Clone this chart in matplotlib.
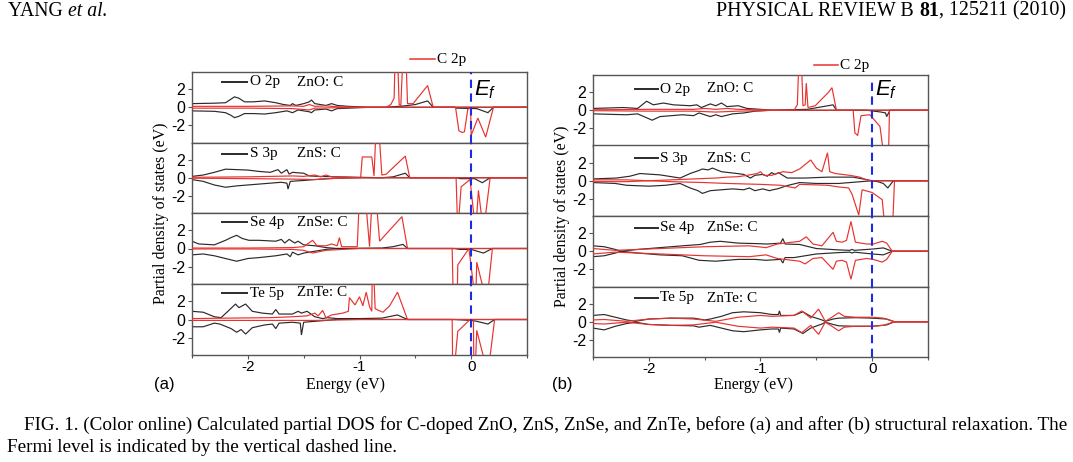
import numpy as np
import matplotlib
matplotlib.use('Agg')
import matplotlib.pyplot as plt
from matplotlib.lines import Line2D
from matplotlib.ticker import MultipleLocator

plt.rcParams['axes.unicode_minus'] = False
plt.rcParams['mathtext.fontset'] = 'custom'
plt.rcParams['mathtext.it'] = 'Liberation Sans:italic'
plt.rcParams['mathtext.rm'] = 'Liberation Sans'

W, H = 1073, 462
SERIF = 'Liberation Serif'
SANS = 'Liberation Sans'
BLACK = '#2a2a2a'
RED = '#e8322f'
BLUE = '#1f2be0'

# ---------------- data (energy eV, PDOS) ----------------
MATERIALS = ['ZnO: C', 'ZnS: C', 'ZnSe: C', 'ZnTe: C']
ANION_LABELS = ['O 2p', 'S 3p', 'Se 4p', 'Te 5p']
CARBON_LABEL = 'C 2p'
XTICKS = [-2, -1, 0]
YTICKS = [-2, 0, 2]
XLIM = (-2.5, 0.5)
YLIM = (-3.9, 3.9)
FERMI = 0.0

# ----- panel (a): before relaxation -----
A_ZNO_BLACK_UP = [(-2.5,0.4),(-2.3,0.45),(-2.2,0.5),(-2.15,0.9),(-2.12,1.15),(-2.08,1.0),(-2.03,0.6),(-1.95,0.6),(-1.85,0.7),(-1.75,0.5),(-1.68,0.3),(-1.62,0.2),(-1.6,0.4),(-1.57,0.2),(-1.5,0.4),(-1.45,0.6),(-1.43,0.8),(-1.4,0.4),(-1.35,0.3),(-1.3,0.2),(-1.25,0.4),(-1.2,0.2),(-1.1,0.1),(-1.0,0.05),(-0.9,0.0),(-0.75,0.0),(-0.65,0.1),(-0.6,0.15),(-0.5,0.3),(-0.39,0.7),(-0.34,0.0),(0.5,0.0)]
A_ZNO_BLACK_DN = [(-2.5,-0.4),(-2.3,-0.45),(-2.2,-0.6),(-2.15,-0.9),(-2.12,-1.15),(-2.08,-1.0),(-2.03,-0.7),(-1.95,-0.7),(-1.85,-0.75),(-1.75,-0.6),(-1.65,-0.4),(-1.6,-0.6),(-1.55,-0.3),(-1.45,-0.5),(-1.43,-0.6),(-1.4,-0.3),(-1.3,-0.2),(-1.25,-0.4),(-1.2,-0.15),(-1.1,-0.1),(-0.9,0.0),(-0.15,0.0),(-0.13,-0.1),(0.05,-0.15),(0.15,-0.6),(0.2,0.0),(0.5,0.0)]
A_ZNO_RED_UP = [(-2.5,0.1),(-2.0,0.1),(-1.6,0.15),(-1.5,0.1),(-1.45,0.3),(-1.4,0.1),(-1.3,0.15),(-1.2,0.05),(-1.0,0.0),(-0.76,0.0),(-0.72,0.3),(-0.69,1.0),(-0.68,6),(-0.66,6),(-0.645,0.3),(-0.63,0.2),(-0.61,6),(-0.585,6),(-0.57,0.4),(-0.52,0.4),(-0.39,2.4),(-0.34,0.0),(0.5,0.0)]
A_ZNO_RED_DN = [(-2.5,-0.1),(-2.0,-0.1),(-1.6,-0.15),(-1.45,-0.3),(-1.4,-0.1),(-1.2,-0.05),(-1.0,0.0),(-0.14,0.0),(-0.11,-2.6),(-0.08,-2.8),(-0.06,-2.7),(-0.03,-0.2),(-0.005,-0.1),(0.0,-3.1),(0.06,-1.2),(0.13,-3.3),(0.2,0.0),(0.5,0.0)]

A_ZNS_BLACK_UP = [(-2.5,0.15),(-2.4,0.3),(-2.3,0.6),(-2.2,0.95),(-2.1,0.9),(-2.0,0.85),(-1.9,0.7),(-1.8,0.6),(-1.73,0.9),(-1.7,0.5),(-1.65,0.9),(-1.63,0.4),(-1.6,0.6),(-1.5,0.5),(-1.45,0.2),(-1.36,0.15),(-1.2,0.1),(-1.0,0.05),(-0.8,0.0),(-0.7,0.1),(-0.59,0.5),(-0.55,0.0),(0.5,0.0)]
A_ZNS_BLACK_DN = [(-2.5,-0.2),(-2.4,-0.4),(-2.3,-0.8),(-2.2,-1.05),(-2.1,-0.9),(-2.0,-0.8),(-1.9,-0.7),(-1.8,-0.6),(-1.7,-0.5),(-1.65,-0.6),(-1.64,-1.25),(-1.62,-0.4),(-1.5,-0.3),(-1.4,-0.2),(-1.2,-0.05),(-1.0,0.0),(-0.12,0.0),(-0.1,-0.1),(0.03,-0.1),(0.1,-0.55),(0.17,0.0),(0.5,0.0)]
A_ZNS_RED_UP = [(-2.5,0.05),(-2.0,0.1),(-1.8,0.15),(-1.6,0.2),(-1.5,0.15),(-1.4,0.3),(-1.35,0.1),(-1.3,0.3),(-1.25,0.1),(-1.1,0.05),(-0.99,0.0),(-0.975,2.3),(-0.89,2.3),(-0.87,0.2),(-0.85,6),(-0.83,6),(-0.8,0.3),(-0.76,0.4),(-0.59,2.4),(-0.55,0.0),(0.5,0.0)]
A_ZNS_RED_DN = [(-2.5,-0.05),(-2.0,-0.1),(-1.6,-0.15),(-1.4,-0.2),(-1.3,-0.1),(-1.0,0.0),(-0.135,0.0),(-0.12,-6),(-0.09,-1.0),(-0.01,-0.2),(0.04,-6),(0.065,-1.4),(0.11,-6),(0.17,0.0),(0.5,0.0)]

A_ZNSE_BLACK_UP = [(-2.5,0.8),(-2.44,0.5),(-2.3,0.4),(-2.2,0.9),(-2.15,1.2),(-2.1,1.45),(-2.05,1.1),(-1.99,0.9),(-1.9,0.9),(-1.75,0.8),(-1.7,1.0),(-1.67,0.6),(-1.63,1.0),(-1.58,0.6),(-1.55,0.8),(-1.5,0.4),(-1.4,0.3),(-1.3,0.1),(-1.2,0.0),(-0.8,0.05),(-0.7,0.2),(-0.61,0.45),(-0.57,0.0),(0.5,0.0)]
A_ZNSE_BLACK_DN = [(-2.5,-0.7),(-2.4,-0.6),(-2.3,-0.8),(-2.2,-1.1),(-2.1,-1.4),(-2.0,-1.1),(-1.9,-1.0),(-1.75,-0.8),(-1.65,-0.6),(-1.62,-0.9),(-1.6,-0.4),(-1.55,-0.7),(-1.5,-0.5),(-1.4,-0.3),(-1.3,-0.1),(-1.2,0.0),(-0.15,0.0),(-0.1,-0.1),(0.0,-0.1),(0.11,-0.5),(0.19,0.0),(0.5,0.0)]
A_ZNSE_RED_UP = [(-2.5,0.05),(-2.0,0.05),(-1.6,0.1),(-1.5,0.2),(-1.42,0.9),(-1.38,0.3),(-1.3,0.3),(-1.25,0.5),(-1.2,0.3),(-1.18,1.2),(-1.16,0.2),(-1.02,0.2),(-1.0,6),(-0.95,6),(-0.91,0.2),(-0.885,6),(-0.855,6),(-0.82,0.8),(-0.62,3.5),(-0.57,0.0),(0.5,0.0)]
A_ZNSE_RED_DN = [(-2.5,-0.05),(-2.0,-0.05),(-1.6,-0.1),(-1.5,-0.2),(-1.42,-0.5),(-1.3,-0.2),(-1.0,0.0),(-0.17,0.0),(-0.16,-6),(-0.125,-6),(-0.12,-1.8),(-0.02,0.0),(0.04,-6),(0.05,-1.5),(0.14,-6),(0.19,0.0),(0.5,0.0)]

A_ZNTE_BLACK_UP = [(-2.5,0.9),(-2.4,0.8),(-2.3,0.3),(-2.24,0.2),(-2.17,1.0),(-2.11,1.7),(-2.08,1.3),(-2.02,1.7),(-1.96,0.9),(-1.87,0.7),(-1.78,0.6),(-1.75,1.1),(-1.72,0.6),(-1.6,0.6),(-1.55,0.9),(-1.52,0.7),(-1.47,0.9),(-1.4,0.3),(-1.33,0.1),(-1.29,0.2),(-1.2,0.1),(-1.0,0.1),(-0.8,0.15),(-0.66,0.5),(-0.57,0.0),(0.5,0.0)]
A_ZNTE_BLACK_DN = [(-2.5,-0.8),(-2.4,-0.8),(-2.3,-0.4),(-2.25,-0.5),(-2.15,-1.0),(-2.1,-1.4),(-2.06,-1.1),(-2.02,-1.6),(-1.96,-0.9),(-1.85,-0.6),(-1.78,-0.5),(-1.75,-1.0),(-1.72,-0.4),(-1.6,-0.3),(-1.53,-0.4),(-1.52,-1.7),(-1.5,-0.3),(-1.4,-0.2),(-1.3,-0.1),(-1.2,0.0),(-0.15,0.0),(0.0,-0.1),(0.05,-0.2),(0.15,-0.5),(0.21,0.0),(0.5,0.0)]
A_ZNTE_RED_UP = [(-2.5,0.1),(-2.2,0.15),(-1.8,0.2),(-1.6,0.3),(-1.47,0.4),(-1.4,0.7),(-1.37,0.4),(-1.33,1.0),(-1.3,0.2),(-1.25,0.5),(-1.15,0.7),(-1.1,0.9),(-1.09,2.4),(-1.04,1.6),(-1.0,2.5),(-0.97,1.5),(-0.94,3.0),(-0.91,1.4),(-0.89,0.9),(-0.885,6),(-0.875,6),(-0.86,1.2),(-0.83,1.0),(-0.79,0.8),(-0.73,1.5),(-0.66,3.0),(-0.57,0.0),(0.5,0.0)]
A_ZNTE_RED_DN = [(-2.5,-0.1),(-2.0,-0.1),(-1.6,-0.1),(-1.4,-0.1),(-1.2,-0.05),(-1.0,0.0),(-0.17,0.0),(-0.165,-6),(-0.155,-6),(-0.12,-1.3),(-0.01,0.0),(0.02,0.0),(0.025,-6),(0.035,-6),(0.05,-1.2),(0.15,-6),(0.21,0.0),(0.5,0.0)]

# ----- panel (b): after relaxation -----
B_ZNO_BLACK_UP = [(-2.5,0.2),(-2.23,0.3),(-2.1,0.2),(-2.05,0.7),(-2.02,1.0),(-1.96,0.6),(-1.87,0.8),(-1.78,0.6),(-1.63,0.5),(-1.57,0.6),(-1.53,0.3),(-1.45,0.7),(-1.4,0.5),(-1.35,0.8),(-1.3,0.4),(-1.2,0.5),(-1.12,0.2),(-1.0,0.1),(-0.89,0.0),(-0.58,0.1),(-0.35,0.6),(-0.32,0.0),(0.5,0.0)]
B_ZNO_BLACK_DN = [(-2.5,-0.4),(-2.2,-0.5),(-2.1,-0.4),(-1.97,-1.1),(-1.9,-0.7),(-1.8,-0.6),(-1.7,-0.5),(-1.6,-0.6),(-1.55,-0.3),(-1.45,-0.7),(-1.4,-0.5),(-1.35,-0.7),(-1.25,-0.4),(-1.15,-0.3),(-1.05,-0.1),(-0.9,0.0),(-0.05,0.0),(0.08,-0.2),(0.12,-0.3),(0.13,-0.7),(0.16,0.0),(0.5,0.0)]
B_ZNO_RED_UP = [(-2.5,0.05),(-2.0,0.1),(-1.6,0.1),(-1.5,0.2),(-1.4,0.1),(-1.3,0.2),(-1.2,0.1),(-1.0,0.05),(-0.9,0.0),(-0.7,0.0),(-0.67,0.6),(-0.655,6),(-0.635,6),(-0.62,0.5),(-0.6,0.6),(-0.59,3.0),(-0.575,0.3),(-0.51,0.5),(-0.39,2.0),(-0.36,2.5),(-0.32,0.0),(0.5,0.0)]
B_ZNO_RED_DN = [(-2.5,-0.05),(-2.0,-0.1),(-1.6,-0.1),(-1.4,-0.2),(-1.2,-0.1),(-1.0,-0.05),(-0.9,0.0),(-0.17,0.0),(-0.155,-2.5),(-0.13,-2.8),(-0.1,-0.6),(-0.02,-0.5),(0.07,-1.8),(0.115,-6),(0.145,-6),(0.155,0.0),(0.5,0.0)]

B_ZNS_BLACK_UP = [(-2.5,0.2),(-2.29,0.3),(-2.17,0.5),(-2.08,0.8),(-1.9,0.65),(-1.72,0.3),(-1.63,0.8),(-1.56,1.1),(-1.52,1.3),(-1.47,1.2),(-1.43,1.4),(-1.35,1.0),(-1.21,0.8),(-1.15,0.7),(-1.09,0.3),(-1.05,0.6),(-0.98,0.7),(-0.94,0.5),(-0.9,0.9),(-0.87,0.7),(-0.84,0.9),(-0.76,0.3),(-0.6,0.3),(-0.4,0.4),(-0.17,0.4),(-0.02,0.05),(0.0,0.0),(0.5,0.0)]
B_ZNS_BLACK_DN = [(-2.5,-0.2),(-2.3,-0.3),(-2.2,-0.5),(-2.0,-0.6),(-1.85,-0.5),(-1.72,-0.3),(-1.63,-0.8),(-1.56,-1.1),(-1.52,-1.4),(-1.45,-1.1),(-1.35,-1.0),(-1.25,-0.9),(-1.15,-1.0),(-1.1,-0.8),(-1.05,-1.1),(-0.98,-0.9),(-0.92,-1.1),(-0.89,-1.0),(-0.85,-0.9),(-0.75,-0.5),(-0.65,-0.2),(-0.5,-0.3),(-0.3,-0.3),(-0.1,-0.1),(0.0,0.0),(0.05,-0.1),(0.1,-0.3),(0.14,-0.8),(0.19,0.0),(0.5,0.0)]
B_ZNS_RED_UP = [(-2.5,0.1),(-2.2,0.1),(-2.0,0.0),(-1.8,0.1),(-1.6,0.2),(-1.4,0.3),(-1.3,0.4),(-1.2,0.45),(-1.12,0.6),(-1.03,0.8),(-1.0,1.0),(-0.97,0.6),(-0.9,0.6),(-0.8,1.0),(-0.72,0.9),(-0.65,1.3),(-0.55,2.3),(-0.5,1.4),(-0.45,1.0),(-0.4,3.1),(-0.38,1.0),(-0.33,0.8),(-0.2,0.6),(-0.11,0.4),(-0.05,0.1),(-0.02,0.0),(0.5,0.0)]
B_ZNS_RED_DN = [(-2.5,-0.1),(-2.2,-0.1),(-2.0,0.0),(-1.8,-0.1),(-1.5,-0.2),(-1.3,-0.3),(-1.0,-0.4),(-0.82,-0.5),(-0.69,-0.8),(-0.65,-0.4),(-0.4,-0.5),(-0.29,-0.7),(-0.21,-0.8),(-0.18,-1.5),(-0.12,-3.8),(-0.09,-1.0),(0.0,-1.3),(0.09,-2.1),(0.12,-6),(0.18,-6),(0.2,0.0),(0.5,0.0)]

B_ZNSE_BLACK_UP = [(-2.5,0.6),(-2.4,0.5),(-2.3,0.2),(-2.25,0.0),(-2.1,0.2),(-1.9,0.4),(-1.7,0.6),(-1.54,0.75),(-1.45,1.0),(-1.36,1.1),(-1.2,0.9),(-1.05,0.85),(-0.94,0.8),(-0.82,0.9),(-0.8,1.4),(-0.78,0.8),(-0.65,0.75),(-0.5,0.3),(-0.3,0.15),(-0.2,0.1),(-0.18,0.2),(-0.16,0.1),(0.01,0.25),(0.1,0.37),(0.18,0.0),(0.5,0.0)]
B_ZNSE_BLACK_DN = [(-2.5,-0.6),(-2.4,-0.5),(-2.3,-0.2),(-2.25,0.0),(-2.1,-0.2),(-1.9,-0.4),(-1.7,-0.5),(-1.55,-1.0),(-1.4,-1.1),(-1.2,-0.9),(-1.05,-0.9),(-0.95,-1.0),(-0.82,-0.9),(-0.8,-1.3),(-0.78,-0.7),(-0.7,-0.7),(-0.5,-0.3),(-0.3,-0.15),(-0.2,-0.1),(-0.18,-0.2),(-0.16,-0.1),(0.0,-0.3),(0.1,-0.4),(0.18,0.0),(0.5,0.0)]
B_ZNSE_RED_UP = [(-2.5,0.3),(-2.3,0.1),(-2.1,0.2),(-1.9,0.3),(-1.7,0.4),(-1.5,0.5),(-1.3,0.55),(-1.1,0.6),(-0.95,0.4),(-0.85,0.8),(-0.65,1.1),(-0.59,1.6),(-0.53,0.8),(-0.45,0.6),(-0.35,2.1),(-0.32,1.1),(-0.27,1.0),(-0.23,1.2),(-0.19,3.3),(-0.15,1.0),(-0.05,0.8),(0.01,0.8),(0.09,1.1),(0.13,0.9),(0.18,0.0),(0.5,0.0)]
B_ZNSE_RED_DN = [(-2.5,-0.3),(-2.3,-0.1),(-2.1,-0.2),(-1.9,-0.3),(-1.7,-0.4),(-1.5,-0.5),(-1.3,-0.55),(-1.1,-0.6),(-0.95,-0.4),(-0.85,-0.8),(-0.65,-1.1),(-0.6,-1.4),(-0.53,-0.8),(-0.45,-0.7),(-0.35,-2.0),(-0.32,-1.1),(-0.27,-1.0),(-0.23,-1.2),(-0.19,-3.1),(-0.15,-1.0),(-0.05,-0.8),(0.01,-0.9),(0.09,-1.2),(0.13,-0.9),(0.18,0.0),(0.5,0.0)]

B_ZNTE_BLACK_UP = [(-2.5,0.7),(-2.4,0.8),(-2.3,0.5),(-2.2,0.2),(-2.12,0.05),(-2.0,0.3),(-1.8,0.4),(-1.6,0.4),(-1.5,0.2),(-1.45,0.3),(-1.35,0.6),(-1.25,1.0),(-1.15,1.1),(-1.0,1.0),(-0.9,0.8),(-0.84,0.8),(-0.83,1.2),(-0.82,0.7),(-0.7,0.7),(-0.62,1.1),(-0.55,0.6),(-0.45,0.2),(-0.42,0.05),(-0.35,0.3),(-0.3,0.4),(-0.15,0.45),(0.0,0.4),(0.13,0.3),(0.2,0.0),(0.5,0.0)]
B_ZNTE_BLACK_DN = [(-2.5,-0.7),(-2.4,-0.9),(-2.3,-0.5),(-2.2,-0.2),(-2.12,-0.05),(-2.0,-0.3),(-1.8,-0.4),(-1.6,-0.45),(-1.55,-0.6),(-1.45,-0.4),(-1.35,-0.7),(-1.25,-1.0),(-1.15,-1.1),(-1.0,-0.9),(-0.9,-0.8),(-0.84,-0.8),(-0.83,-1.2),(-0.82,-0.7),(-0.7,-0.8),(-0.62,-1.3),(-0.55,-0.7),(-0.45,-0.25),(-0.42,-0.05),(-0.35,-0.3),(-0.3,-0.45),(-0.15,-0.5),(0.0,-0.5),(0.13,-0.35),(0.2,0.0),(0.5,0.0)]
B_ZNTE_RED_UP = [(-2.5,0.2),(-2.4,0.25),(-2.2,0.05),(-2.0,0.3),(-1.8,0.4),(-1.6,0.3),(-1.4,0.05),(-1.2,0.5),(-1.0,0.7),(-0.9,0.6),(-0.7,0.7),(-0.63,1.2),(-0.55,0.4),(-0.48,1.4),(-0.42,0.05),(-0.36,0.5),(-0.3,1.0),(-0.25,0.6),(-0.15,0.5),(0.0,0.5),(0.1,0.4),(0.2,0.0),(0.5,0.0)]
B_ZNTE_RED_DN = [(-2.5,-0.2),(-2.4,-0.25),(-2.2,-0.05),(-2.0,-0.3),(-1.8,-0.4),(-1.6,-0.35),(-1.4,-0.05),(-1.2,-0.5),(-1.0,-0.7),(-0.9,-0.6),(-0.7,-0.7),(-0.63,-1.2),(-0.55,-0.4),(-0.48,-1.4),(-0.42,-0.05),(-0.36,-0.5),(-0.3,-1.0),(-0.25,-0.6),(-0.15,-0.5),(0.0,-0.5),(0.1,-0.4),(0.2,0.0),(0.5,0.0)]

PANEL_A = [(A_ZNO_BLACK_UP, A_ZNO_BLACK_DN, A_ZNO_RED_UP, A_ZNO_RED_DN),
           (A_ZNS_BLACK_UP, A_ZNS_BLACK_DN, A_ZNS_RED_UP, A_ZNS_RED_DN),
           (A_ZNSE_BLACK_UP, A_ZNSE_BLACK_DN, A_ZNSE_RED_UP, A_ZNSE_RED_DN),
           (A_ZNTE_BLACK_UP, A_ZNTE_BLACK_DN, A_ZNTE_RED_UP, A_ZNTE_RED_DN)]
PANEL_B = [(B_ZNO_BLACK_UP, B_ZNO_BLACK_DN, B_ZNO_RED_UP, B_ZNO_RED_DN),
           (B_ZNS_BLACK_UP, B_ZNS_BLACK_DN, B_ZNS_RED_UP, B_ZNS_RED_DN),
           (B_ZNSE_BLACK_UP, B_ZNSE_BLACK_DN, B_ZNSE_RED_UP, B_ZNSE_RED_DN),
           (B_ZNTE_BLACK_UP, B_ZNTE_BLACK_DN, B_ZNTE_RED_UP, B_ZNTE_RED_DN)]

# ---------------- figure ----------------
fig = plt.figure(figsize=(W / 100, H / 100), dpi=100)
fig.patch.set_facecolor('white')


def fx(px):
    return px / W


def fy(py):
    return 1 - py / H


def plot_curve(ax, pts, color, z):
    a = np.array(pts, dtype=float)
    ax.plot(a[:, 0], a[:, 1], color=color, lw=0.85, zorder=z, solid_joinstyle='miter')


def draw_panel(curves, left, right, edges, leg, fermi_top, letter, letter_x, ylab_x, xlab_x, c2p):
    for i, (bu, bd, ru, rd) in enumerate(curves):
        top, bot = edges[i], edges[i + 1]
        ax = fig.add_axes([fx(left), fy(bot), (right - left) / W, (bot - top) / H])
        plot_curve(ax, bu, BLACK, 2)
        plot_curve(ax, bd, BLACK, 2)
        plot_curve(ax, ru, RED, 3)
        plot_curve(ax, rd, RED, 3)
        ax.set_xlim(*XLIM)
        ax.set_ylim(*YLIM)
        ymax = fermi_top if i == 0 else 1.0
        ax.axvline(FERMI, ymin=0, ymax=ymax, color=BLUE, lw=1.5, ls=(0, (4, 2.6)), zorder=4)
        for sp in ax.spines.values():
            sp.set_color('#555555')
            sp.set_linewidth(1.0)
        ax.set_yticks(YTICKS)
        ax.set_yticklabels([str(v) for v in YTICKS], fontfamily=SANS, fontsize=11.5)
        ax.set_xticks(XTICKS)
        ax.xaxis.set_minor_locator(MultipleLocator(0.5))
        ax.tick_params(axis='y', which='major', direction='out', length=3, width=0.8,
                       color='#555555', pad=2)
        ax.tick_params(axis='x', which='major', direction='out', length=3, width=0.8,
                       color='#555555', pad=0.5)
        ax.tick_params(axis='x', which='minor', direction='out', length=2, width=0.8, color='#555555')
        if i == len(curves) - 1:
            ax.set_xticklabels([str(v) for v in XTICKS], fontfamily=SANS, fontsize=11)
        else:
            ax.set_xticklabels([])
        # in-plot legend entry
        lx1, lx2, tx, mx, dy = leg
        ly = top + dy[i]
        fig.add_artist(Line2D([fx(left + lx1), fx(left + lx2)], [fy(ly), fy(ly)],
                              transform=fig.transFigure, color=BLACK, lw=1.4))
        fig.text(fx(left + tx), fy(ly), ANION_LABELS[i], family=SERIF, fontsize=11,
                 va='center', ha='left')
        fig.text(fx(left + mx), fy(ly), MATERIALS[i], family=SERIF, fontsize=11,
                 va='center', ha='left')
    # C 2p legend
    cx1, cx2, cy = c2p
    fig.add_artist(Line2D([fx(cx1), fx(cx2)], [fy(cy), fy(cy)], transform=fig.transFigure,
                          color=RED, lw=1.1))
    fig.text(fx(cx2 + 2), fy(cy), CARBON_LABEL, family=SERIF, fontsize=11, va='center', ha='left')
    # axis labels
    fig.text(fx(ylab_x), fy((edges[0] + edges[-1]) / 2), 'Partial density of states (eV)',
             rotation=90, family=SERIF, fontsize=11.5, va='center', ha='center')
    fig.text(fx(xlab_x), fy(385), 'Energy (eV)', family=SERIF, fontsize=11.5, va='center', ha='center')
    fig.text(fx(letter_x), fy(384), letter, family=SANS, fontsize=12, va='center', ha='left')


draw_panel(PANEL_A, 192, 527, [72, 142.5, 213, 284, 355],
           (30, 55, 58, 105, [10, 11.5, 9, 9]), 1.0, '(a)', 154, 161, 345,
           (410, 435, 59))
draw_panel(PANEL_B, 593, 928, [75, 145.5, 216, 286.5, 357],
           (42, 65, 67, 114, [14, 12.5, 12, 11.5]), 0.9, '(b)', 552, 562, 753,
           (814, 838, 65))

fig.text(fx(474), fy(90), r'$E_f$', fontsize=16, va='center', ha='left')
fig.text(fx(875), fy(90), r'$E_f$', fontsize=16, va='center', ha='left')

# ---------------- page header and caption ----------------
renderer = fig.canvas.get_renderer()


def text_width(s, **kw):
    t1 = fig.text(0, 0, s + '|', family=SERIF, **kw)
    t2 = fig.text(0, 0, '|', family=SERIF, **kw)
    w = t1.get_window_extent(renderer).width - t2.get_window_extent(renderer).width
    t1.remove()
    t2.remove()
    return w


def place_runs(runs, x, y, target_w, ha='left', base=10.0):
    total = sum(text_width(s, fontsize=base, **kw) for s, kw in runs)
    size = base * target_w / total
    widths = [text_width(s, fontsize=size, **kw) for s, kw in runs]
    cur = x if ha == 'left' else x - sum(widths)
    for (s, kw), w in zip(runs, widths):
        fig.text(fx(cur), fy(y), s, family=SERIF, fontsize=size, va='center', ha='left', **kw)
        cur += w
    return size


place_runs([('YANG ', {}), ('et al.', {'style': 'italic'})], 8, 11, 100)
place_runs([('PHYSICAL REVIEW B ', {}), ('81', {'weight': 'bold'}), (', 125211 (2010)', {})],
           1066, 11, 350, ha='right')
cap_size = place_runs([('FIG. 1. (Color online) Calculated partial DOS for C-doped ZnO, ZnS, ZnSe, '
                        'and ZnTe, before (a) and after (b) structural relaxation. The', {})],
                      24, 425, 1044)
fig.text(fx(7), fy(447), 'Fermi level is indicated by the vertical dashed line.', family=SERIF,
         fontsize=cap_size, va='center', ha='left')

fig.savefig('out.png', dpi=100, facecolor='white')
